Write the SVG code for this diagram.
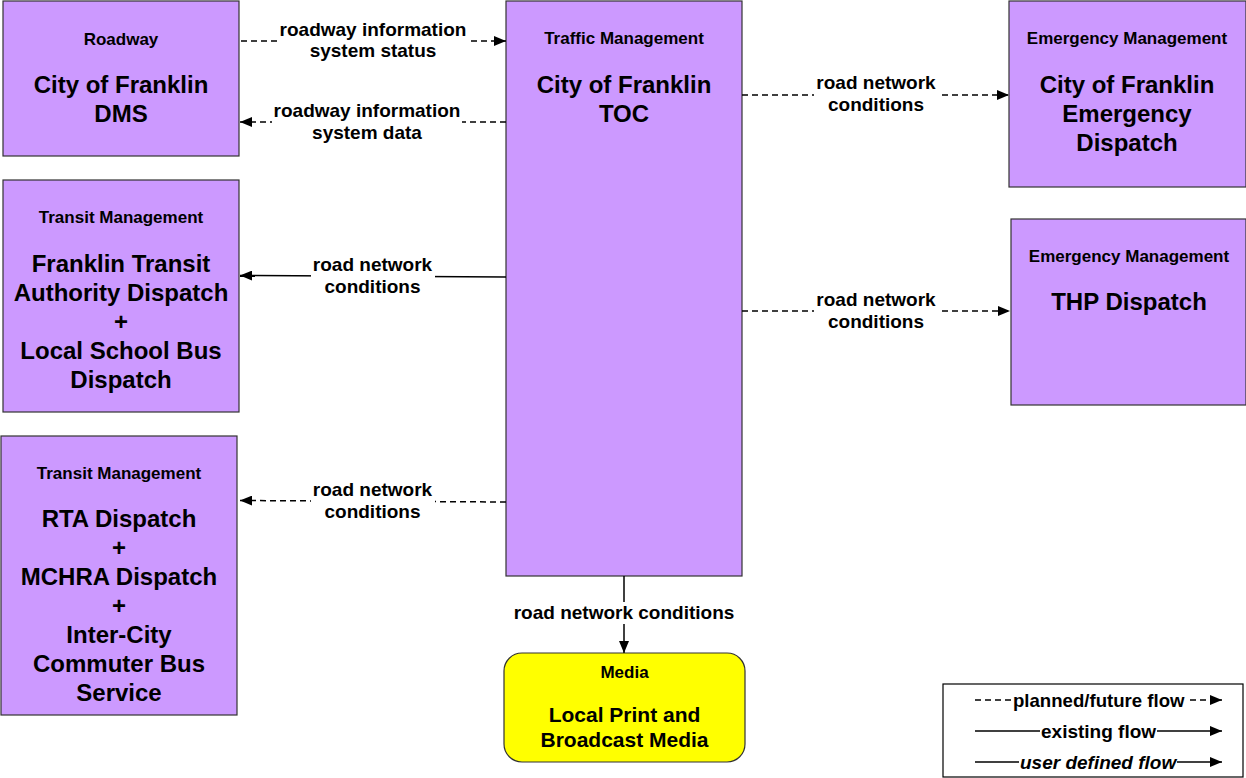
<svg xmlns="http://www.w3.org/2000/svg" width="1246" height="778" viewBox="0 0 1246 778">
<style>
text{font-family:"Liberation Sans",Arial,sans-serif;font-weight:bold;fill:#000;text-anchor:middle}
.hd{font-size:17px}
.nm{font-size:24px}
.md{font-size:21px}
.lb{font-size:19px}
.box{fill:#CC99FF;stroke:#333;stroke-width:1.2}
.media{fill:#FFFF00;stroke:#333;stroke-width:1.2}
.c{fill:none;stroke:#000;stroke-width:1.5}
.d{stroke-dasharray:6 4}
.bg{fill:#fff}
</style>
<defs>
<marker id="ah" markerUnits="userSpaceOnUse" markerWidth="12" markerHeight="10" refX="12" refY="5" orient="auto">
<path d="M0,0 L12,5 L0,10 z" fill="#000"/>
</marker>
</defs>
<rect width="1246" height="778" fill="#fff"/>

<g id="roadway">
<rect class="box" x="3" y="1" width="236" height="155"/>
<text class="hd" x="121" y="45">Roadway</text>
<text class="nm" x="121" y="93">City of Franklin</text>
<text class="nm" x="121" y="122">DMS</text>
</g>

<g id="toc">
<rect class="box" x="506" y="1" width="236" height="575"/>
<text class="hd" x="624" y="44">Traffic Management</text>
<text class="nm" x="624" y="93">City of Franklin</text>
<text class="nm" x="624" y="122">TOC</text>
</g>

<g id="emergency">
<rect class="box" x="1009" y="1" width="237" height="186"/>
<text class="hd" x="1127" y="44">Emergency Management</text>
<text class="nm" x="1127" y="93">City of Franklin</text>
<text class="nm" x="1127" y="122">Emergency</text>
<text class="nm" x="1127" y="151">Dispatch</text>
</g>

<g id="thp">
<rect class="box" x="1011" y="219" width="235" height="186"/>
<text class="hd" x="1129" y="262">Emergency Management</text>
<text class="nm" x="1129" y="310">THP Dispatch</text>
</g>

<g id="transit1">
<rect class="box" x="3" y="180" width="236" height="232"/>
<text class="hd" x="121" y="223">Transit Management</text>
<text class="nm" x="121" y="272">Franklin Transit</text>
<text class="nm" x="121" y="301">Authority Dispatch</text>
<text class="nm" x="121" y="330">+</text>
<text class="nm" x="121" y="359">Local School Bus</text>
<text class="nm" x="121" y="388">Dispatch</text>
</g>

<g id="transit2">
<rect class="box" x="1" y="436" width="236" height="279"/>
<text class="hd" x="119" y="479">Transit Management</text>
<text class="nm" x="119" y="527">RTA Dispatch</text>
<text class="nm" x="119" y="556">+</text>
<text class="nm" x="119" y="585">MCHRA Dispatch</text>
<text class="nm" x="119" y="614">+</text>
<text class="nm" x="119" y="643">Inter-City</text>
<text class="nm" x="119" y="672">Commuter Bus</text>
<text class="nm" x="119" y="701">Service</text>
</g>

<g id="media">
<rect class="media" x="504" y="653" width="241" height="109" rx="18" ry="18"/>
<text class="hd" x="624.5" y="678">Media</text>
<text class="md" x="624.5" y="722">Local Print and</text>
<text class="md" x="624.5" y="747">Broadcast Media</text>
</g>

<g id="connectors">
<line class="c d" x1="241" y1="41" x2="506" y2="41" marker-end="url(#ah)"/>
<rect class="bg" x="278" y="19" width="190" height="44"/>
<text class="lb" x="373" y="36">roadway information</text>
<text class="lb" x="373" y="57">system status</text>

<line class="c d" x1="506" y1="122" x2="240" y2="122" marker-end="url(#ah)"/>
<rect class="bg" x="272" y="100" width="190" height="44"/>
<text class="lb" x="367" y="117">roadway information</text>
<text class="lb" x="367" y="139">system data</text>

<line class="c d" x1="742" y1="95" x2="1009" y2="95" marker-end="url(#ah)"/>
<rect class="bg" x="814" y="72" width="124" height="44"/>
<text class="lb" x="876" y="89">road network</text>
<text class="lb" x="876" y="111">conditions</text>

<line class="c" x1="506" y1="277" x2="240" y2="275.5" marker-end="url(#ah)"/>
<rect class="bg" x="311" y="254" width="124" height="44"/>
<text class="lb" x="372.5" y="271">road network</text>
<text class="lb" x="372.5" y="293">conditions</text>

<line class="c d" x1="742" y1="311" x2="1010" y2="311" marker-end="url(#ah)"/>
<rect class="bg" x="814" y="289" width="124" height="44"/>
<text class="lb" x="876" y="306">road network</text>
<text class="lb" x="876" y="328">conditions</text>

<line class="c d" x1="506" y1="502" x2="240" y2="500.5" marker-end="url(#ah)"/>
<rect class="bg" x="311" y="479" width="124" height="44"/>
<text class="lb" x="372.5" y="496">road network</text>
<text class="lb" x="372.5" y="518">conditions</text>

<line class="c" x1="624" y1="576" x2="624" y2="653" marker-end="url(#ah)"/>
<rect class="bg" x="512" y="602" width="224" height="22"/>
<text class="lb" x="624" y="619">road network conditions</text>
</g>

<g id="legend">
<rect x="943" y="684" width="300" height="93" fill="#fff" stroke="#000" stroke-width="1.2"/>
<line class="c d" x1="975" y1="700" x2="1012" y2="700"/>
<text class="lb" x="1013" y="706.5" style="text-anchor:start;font-size:18.6px">planned/future flow</text>
<line class="c d" x1="1190" y1="700" x2="1222" y2="700" marker-end="url(#ah)"/>
<line class="c" x1="975" y1="731" x2="1040" y2="731"/>
<text class="lb" x="1041" y="737.5" style="text-anchor:start">existing flow</text>
<line class="c" x1="1157" y1="731" x2="1222" y2="731" marker-end="url(#ah)"/>
<line class="c" x1="975" y1="762" x2="1019" y2="762"/>
<text class="lb" x="1020" y="768.5" style="text-anchor:start;font-style:italic">user defined flow</text>
<line class="c" x1="1177" y1="762" x2="1222" y2="762" marker-end="url(#ah)"/>
</g>
</svg>
